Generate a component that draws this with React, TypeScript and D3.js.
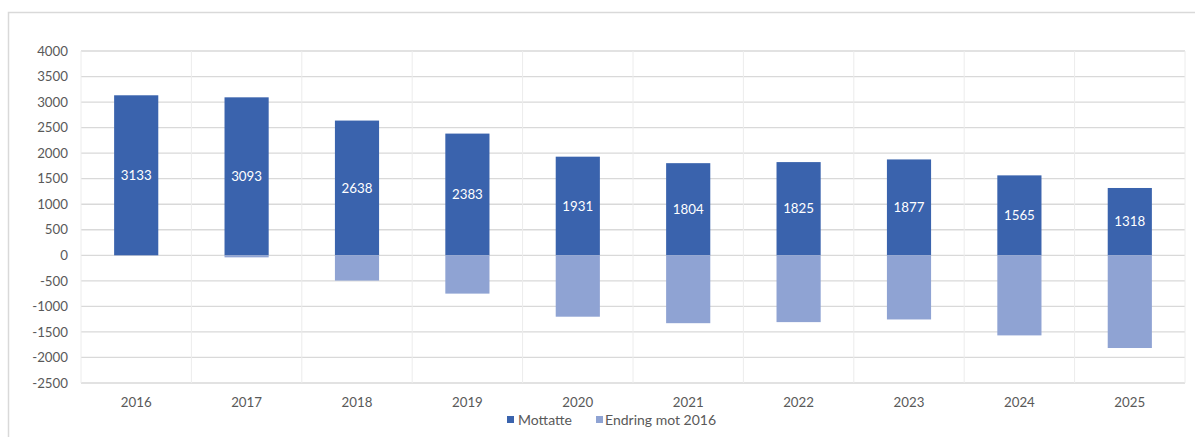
import React from "react";
import * as d3 from "d3";

const years = ["2016", "2017", "2018", "2019", "2020", "2021", "2022", "2023", "2024", "2025"];
const mottatte = [3133, 3093, 2638, 2383, 1931, 1804, 1825, 1877, 1565, 1318];
const endring = [0, -40, -495, -750, -1202, -1329, -1308, -1256, -1568, -1815];
const yTicks = [4000, 3500, 3000, 2500, 2000, 1500, 1000, 500, 0, -500, -1000, -1500, -2000, -2500];

const W = 1195;
const H = 437;
const left = 81;
const right = 1185;
const top = 51;
const bottom = 383;
const FONT = "Lato, 'Open Sans', sans-serif";
const DARK = "#3A63AD";
const LIGHT = "#8FA3D3";
const GRID = "#d9d9d9";
const TXT = "#595959";

export default function App() {
  const x = d3.scaleBand<string>().domain(years).range([left, right]).paddingInner(0).paddingOuter(0);
  const y = d3.scaleLinear().domain([-2500, 4000]).range([bottom, top]);
  const bw = x.bandwidth() * 0.4;
  const stack = d3.stack<any>().keys(["m", "e"]).offset(d3.stackOffsetDiverging);
  const rows = years.map((yr, i) => ({ yr, m: mottatte[i], e: endring[i] }));
  const series = stack(rows);
  const colors = [DARK, LIGHT];

  return (
    <div style={{ position: "fixed", left: 0, top: 0 }}>
      <svg width={W} height={H} style={{ display: "block", background: "#fff" }}>
        <rect x={8.5} y={12.5} width={1200} height={440} fill="#fff" stroke={GRID} strokeWidth={1.5} />
        {yTicks.map((t) => (
          <g key={t}>
            <line x1={left} x2={right} y1={y(t)} y2={y(t)} stroke={GRID} strokeWidth={1.3} />
            <text x={68} y={y(t)} dy="0.35em" textAnchor="end" fontFamily={FONT} fontSize={13.3} fill={TXT}>
              {t}
            </text>
          </g>
        ))}
        {years.map((yr) => (
          <line key={"v" + yr} x1={x(yr)!} x2={x(yr)!} y1={top} y2={bottom} stroke="#ececec" strokeWidth={1} />
        ))}
        <line x1={right} x2={right} y1={top} y2={bottom} stroke="#ececec" strokeWidth={1} />
        {series.map((s, si) =>
          s.map((d, i) => {
            const y0 = y(Math.max(d[0], d[1]));
            const y1 = y(Math.min(d[0], d[1]));
            if (y1 - y0 <= 0) return null;
            return (
              <rect
                key={si + "-" + i}
                x={x(years[i])! + (x.bandwidth() - bw) / 2}
                y={y0}
                width={bw}
                height={y1 - y0}
                fill={colors[si]}
              />
            );
          })
        )}
        {years.map((yr, i) => (
          <text
            key={"l" + yr}
            x={x(yr)! + x.bandwidth() / 2}
            y={y(mottatte[i] / 2)}
            dy="0.35em"
            textAnchor="middle"
            fontFamily={FONT}
            fontSize={13.3}
            fill="#fff"
          >
            {mottatte[i]}
          </text>
        ))}
        {years.map((yr) => (
          <text
            key={"x" + yr}
            x={x(yr)! + x.bandwidth() / 2}
            y={402}
            dy="0.35em"
            textAnchor="middle"
            fontFamily={FONT}
            fontSize={13.3}
            fill={TXT}
          >
            {yr}
          </text>
        ))}
        <g fontFamily={FONT} fontSize={14} fill={TXT}>
          <rect x={507} y={416} width={7} height={7} fill={DARK} />
          <text x={518} y={420} dy="0.35em">Mottatte</text>
          <rect x={596} y={416} width={7} height={7} fill={LIGHT} />
          <text x={605} y={420} dy="0.35em">Endring mot 2016</text>
        </g>
      </svg>
    </div>
  );
}
